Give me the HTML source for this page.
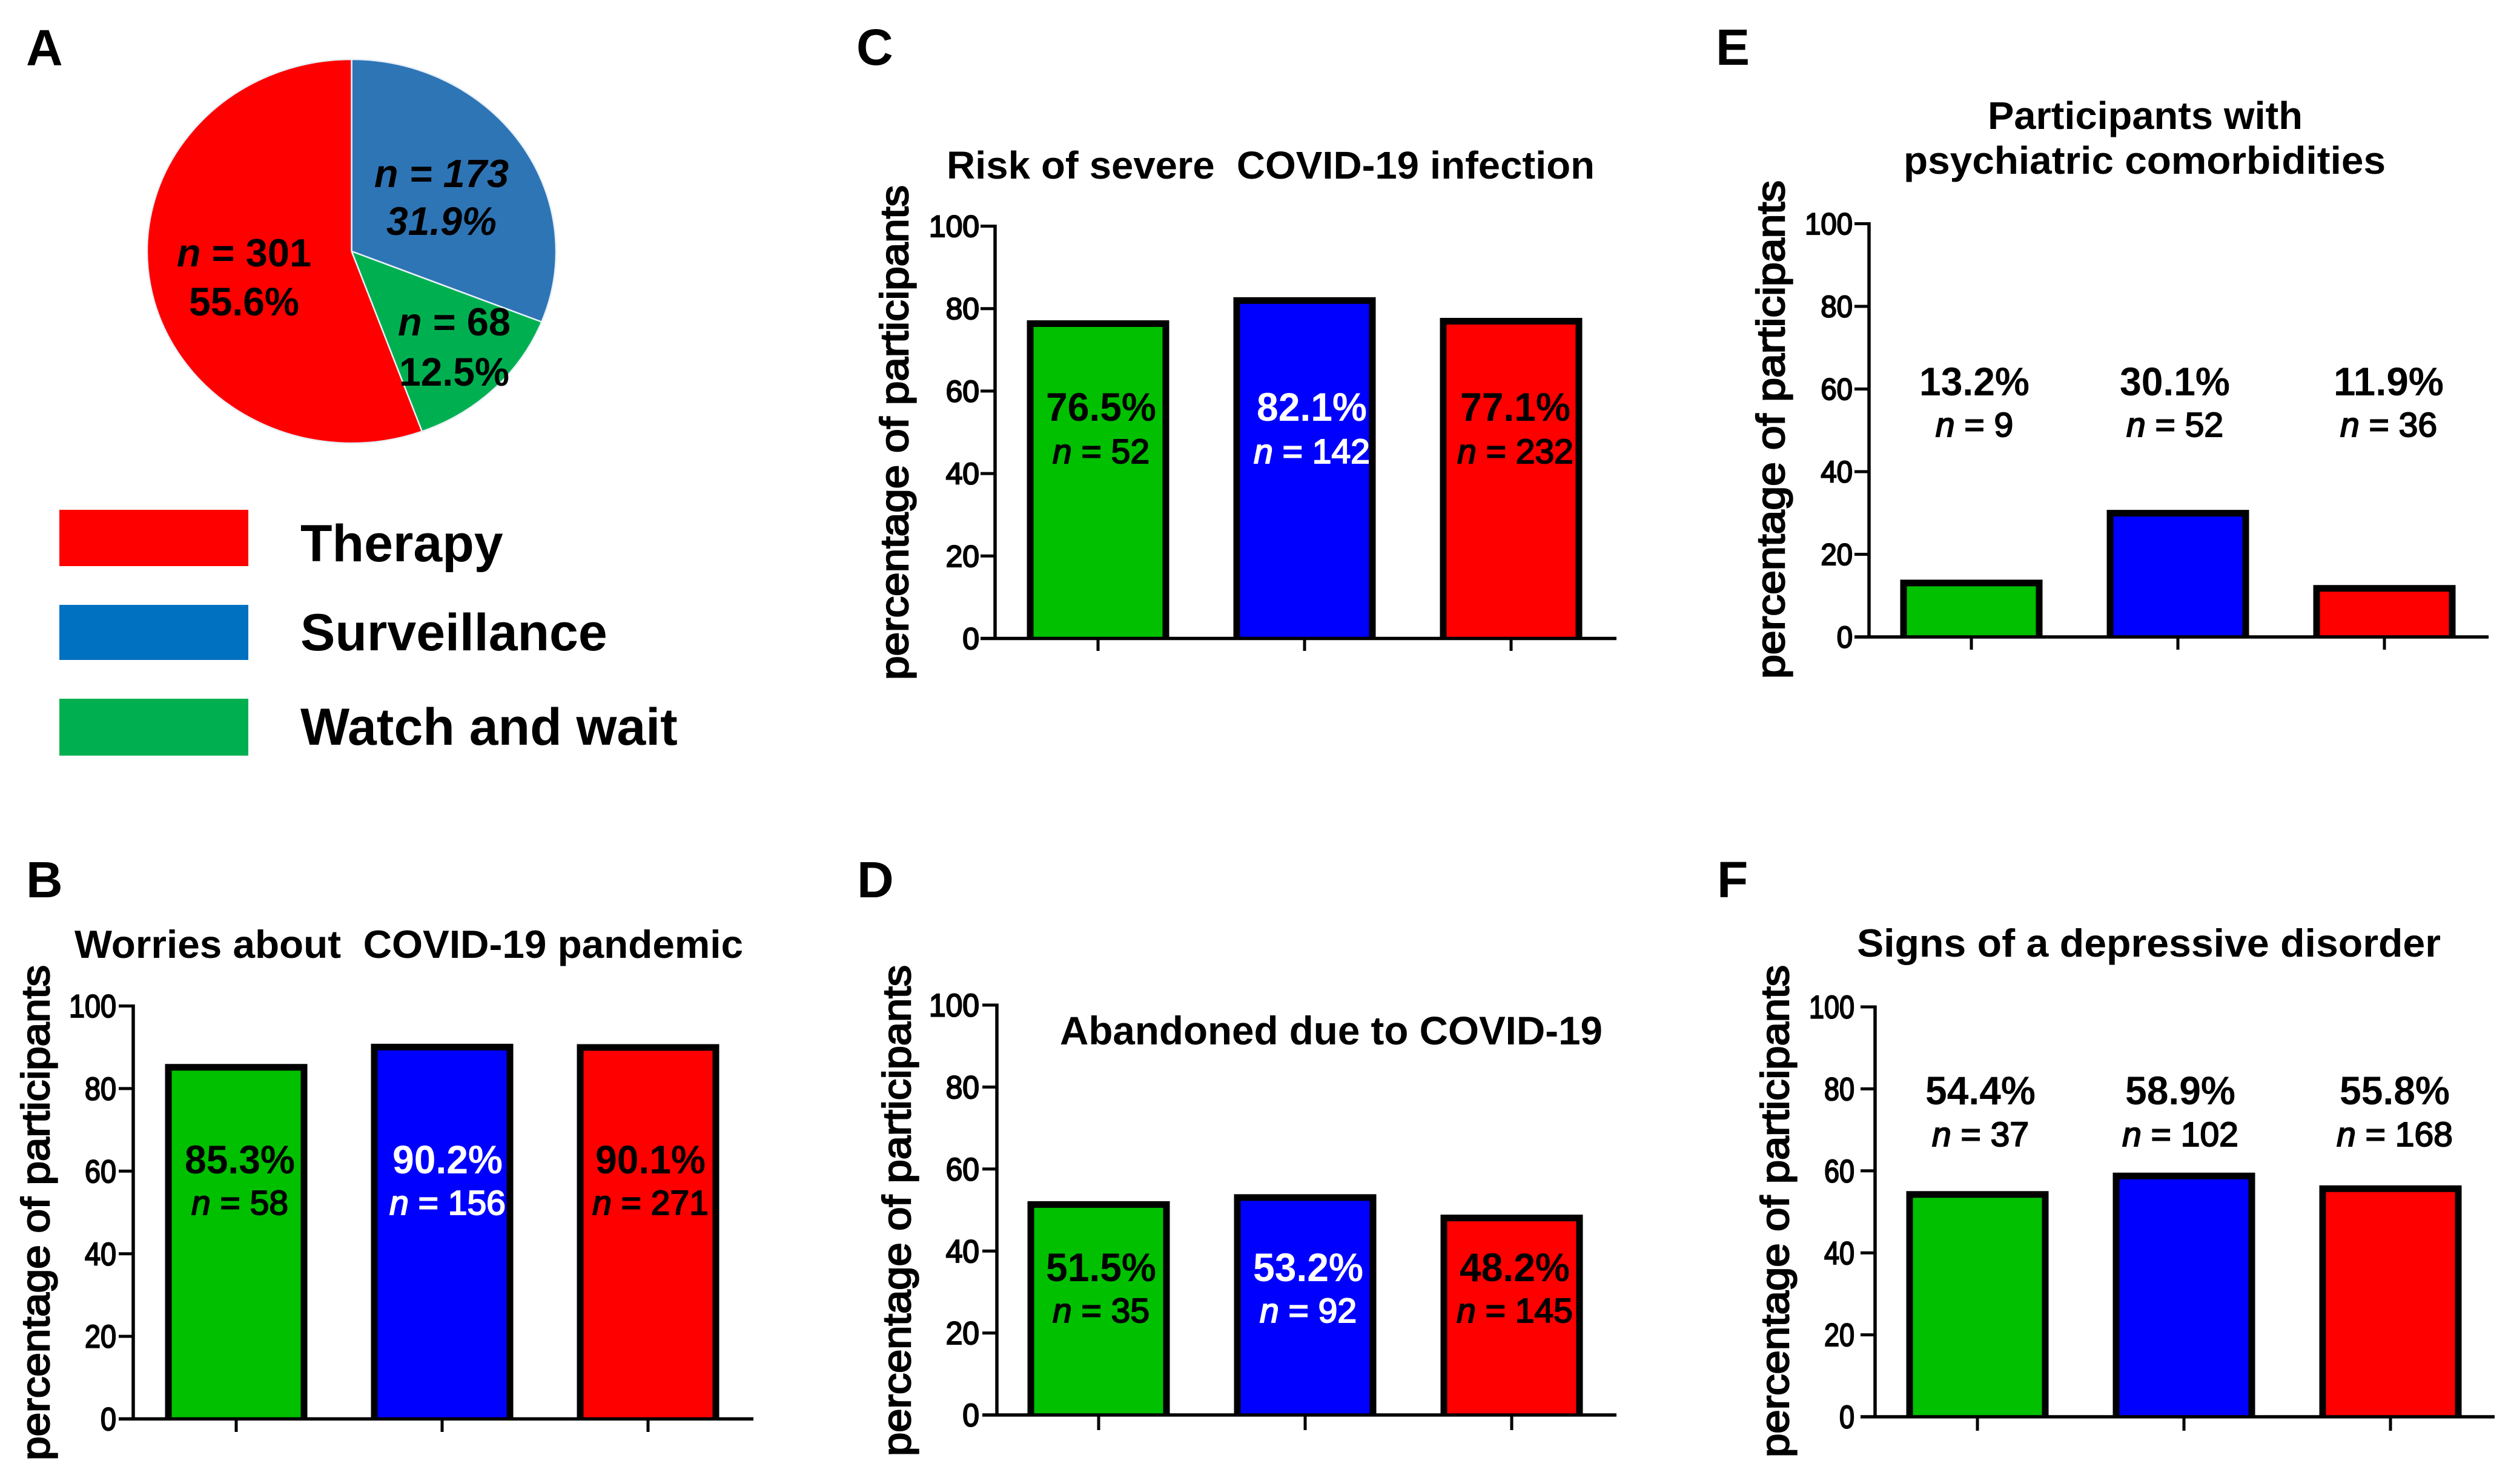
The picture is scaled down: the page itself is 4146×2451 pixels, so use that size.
<!DOCTYPE html>
<html lang="en">
<head>
<meta charset="utf-8">
<title>COVID-19 survey of participants by treatment group</title>
<style>
  html, body { margin: 0; padding: 0; background: #fff; }
  body { width: 4146px; height: 2451px; overflow: hidden; }
  svg { display: block; font-family: "Liberation Sans", sans-serif; }
  text { white-space: pre; }
</style>
</head>
<body>
<svg id="figure" xmlns="http://www.w3.org/2000/svg" width="4146" height="2451" viewBox="0 0 4146 2451">
  <rect x="0" y="0" width="4146" height="2451" fill="#ffffff"/>

  <text x="43" y="108" font-size="84" font-weight="700">A</text>
  <text x="43" y="1482" font-size="84" font-weight="700">B</text>
  <text x="1414" y="107" font-size="84" font-weight="700">C</text>
  <text x="1415" y="1482" font-size="84" font-weight="700">D</text>
  <text x="2833" y="107" font-size="84" font-weight="700">E</text>
  <text x="2835" y="1482" font-size="84" font-weight="700">F</text>

  <g>
    <rect x="98" y="842" width="312" height="93" fill="#ff0000"/>
    <text x="496" y="927" font-size="86" font-weight="700">Therapy</text>
    <rect x="98" y="999" width="312" height="91" fill="#0070c0"/>
    <text x="496" y="1074" font-size="86" font-weight="700">Surveillance</text>
    <rect x="98" y="1154" width="312" height="94" fill="#00b050"/>
    <text x="496" y="1230" font-size="86" font-weight="700">Watch and wait</text>
  </g>

  <g id="pie-chart"></g>
  <g id="panel-b"></g>
  <g id="panel-c"></g>
  <g id="panel-d"></g>
  <g id="panel-e"></g>
  <g id="panel-f"></g>
</svg>

<script>
// ---- Chart data ----
const barCategories = ['watch-and-wait', 'surveillance', 'therapy'];
const yTickLabels = [0, 20, 40, 60, 80, 100];

const worriesPercent = [85.3, 90.2, 90.1];
const worriesCounts = [58, 156, 271];

const severeRiskPercent = [76.5, 82.1, 77.1];
const severeRiskCounts = [52, 142, 232];

const abandonedPercent = [51.5, 53.2, 48.2];
const abandonedCounts = [35, 92, 145];

const psychiatricPercent = [13.2, 30.1, 11.9];
const psychiatricCounts = [9, 52, 36];

const depressivePercent = [54.4, 58.9, 55.8];
const depressiveCounts = [37, 102, 168];

const pieCategories = ['surveillance', 'watch-and-wait', 'therapy'];
// Slice shares as they appear in the drawn pie, read from the slice edges.
const pieSliceShares = [31.0, 13.4, 55.6];
// Values printed on the slices.
const piePercent = [31.9, 12.5, 55.6];
const pieCounts = [173, 68, 301];

// ---- Styling and layout ----
const SVG_NS = 'http://www.w3.org/2000/svg';
const barFill = { 'watch-and-wait': '#00c000', 'surveillance': '#0000ff', 'therapy': '#ff0000' };
const barLabelColor = { 'watch-and-wait': '#000000', 'surveillance': '#ffffff', 'therapy': '#000000' };
const pieFill = { 'surveillance': '#2e75b6', 'watch-and-wait': '#00b050', 'therapy': '#ff0000' };

const pieGeometry = { cx: 580.5, cy: 415, rx: 337.5, ry: 317 };
const pieLabelLayout = {
  'surveillance': { x: 729, nY: 309, pctY: 388, allItalic: true },
  'watch-and-wait': { x: 750, nY: 554, pctY: 637, allItalic: false },
  'therapy': { x: 403, nY: 440, pctY: 521, allItalic: false }
};

function makeText(parent, x, y, size, content, options) {
  const el = document.createElementNS(SVG_NS, 'text');
  el.setAttribute('x', x);
  el.setAttribute('y', y);
  el.setAttribute('font-size', size);
  el.setAttribute('font-weight', options.weight || 400);
  el.setAttribute('fill', options.fill || '#000000');
  el.setAttribute('text-anchor', options.anchor || 'start');
  if (options.italic) el.setAttribute('font-style', 'italic');
  if (options.heavy) {
    el.setAttribute('stroke', options.fill || '#000000');
    el.setAttribute('stroke-width', options.heavy);
  }
  if (options.length) {
    el.setAttribute('textLength', options.length);
    el.setAttribute('lengthAdjust', 'spacingAndGlyphs');
  }
  if (content !== null) el.textContent = content;
  parent.appendChild(el);
  return el;
}

function makeLine(parent, x1, y1, x2, y2, width) {
  const el = document.createElementNS(SVG_NS, 'line');
  el.setAttribute('x1', x1);
  el.setAttribute('y1', y1);
  el.setAttribute('x2', x2);
  el.setAttribute('y2', y2);
  el.setAttribute('stroke', '#000000');
  el.setAttribute('stroke-width', width);
  parent.appendChild(el);
  return el;
}

function appendCountSpans(textEl, count, restItalic) {
  const nSpan = document.createElementNS(SVG_NS, 'tspan');
  nSpan.setAttribute('font-style', 'italic');
  nSpan.textContent = 'n';
  textEl.appendChild(nSpan);
  const rest = document.createElementNS(SVG_NS, 'tspan');
  if (restItalic) rest.setAttribute('font-style', 'italic');
  rest.textContent = ' = ' + count;
  textEl.appendChild(rest);
}

function drawPie() {
  const root = document.getElementById('pie-chart');
  const g = pieGeometry;
  const total = pieSliceShares.reduce((a, b) => a + b, 0);
  const point = (fraction) => {
    const t = fraction * 2 * Math.PI;
    return [g.cx + g.rx * Math.sin(t), g.cy - g.ry * Math.cos(t)];
  };
  let cumulative = 0;
  pieSliceShares.forEach((value, i) => {
    const start = cumulative / total;
    cumulative += value;
    const end = cumulative / total;
    const a = point(start);
    const b = point(end);
    const large = end - start > 0.5 ? 1 : 0;
    const slice = document.createElementNS(SVG_NS, 'path');
    slice.setAttribute('d', 'M' + g.cx + ' ' + g.cy + ' L' + a[0] + ' ' + a[1] +
      ' A' + g.rx + ' ' + g.ry + ' 0 ' + large + ' 1 ' + b[0] + ' ' + b[1] + ' Z');
    slice.setAttribute('fill', pieFill[pieCategories[i]]);
    slice.setAttribute('stroke', '#e8f0f8');
    slice.setAttribute('stroke-width', 2.5);
    
    
    root.appendChild(slice);
  });
  piePercent.forEach((value, i) => {
    const l = pieLabelLayout[pieCategories[i]];
    const countLabel = makeText(root, l.x, l.nY, 65, null, { weight: 700, anchor: 'middle' });
    appendCountSpans(countLabel, pieCounts[i], l.allItalic);
    
    
    const pctLabel = makeText(root, l.x, l.pctY, 66, value.toFixed(1) + '%', { weight: 700, anchor: 'middle', italic: l.allItalic, length: 182 });
    
    
  });
}

function drawBarPanel(id, percent, counts, p) {
  const root = document.getElementById(id);
  const yScale = (v) => p.y0 - (v / 100) * (p.y0 - p.y100);
  const xScale = (i) => p.xFirst + i * p.xStep;

  // Bars: open at the bottom so the stroke ends on the x axis line
  percent.forEach((value, i) => {
    const category = barCategories[i];
    const top = yScale(value) + 1;
    const left = xScale(i) - 112;
    const right = xScale(i) + 112;
    const bar = document.createElementNS(SVG_NS, 'path');
    bar.setAttribute('d', 'M' + left + ' ' + p.y0 + ' L' + left + ' ' + top + ' L' + right + ' ' + top + ' L' + right + ' ' + p.y0);
    bar.setAttribute('fill', barFill[category]);
    bar.setAttribute('stroke', '#000000');
    bar.setAttribute('stroke-width', 11);
    
    
    root.appendChild(bar);
  });

  // Y axis
  const yAxis = makeLine(root, p.axisX, p.y100 - 2.5, p.axisX, p.y0 + 2.5, 5.5);
  
  
  yTickLabels.forEach((tick) => {
    const tickLine = makeLine(root, p.axisX - 24, yScale(tick), p.axisX, yScale(tick), 5);
    
    
    const label = String(tick);
    const tickLabel = makeText(root, p.tickRight, yScale(tick) + p.tickFont * 0.35, p.tickFont, label, {
      anchor: 'end', heavy: 2.2, length: p.digitWidth * label.length
    });
    
    
  });

  // X axis
  const xAxis = makeLine(root, p.axisX - 24, p.y0, p.xEnd, p.y0, 5.5);
  
  
  barCategories.forEach((category, i) => {
    const tickLine = makeLine(root, xScale(i), p.y0, xScale(i), p.tickBottom, 5);
    
    
  });

  // Value labels
  percent.forEach((value, i) => {
    const category = barCategories[i];
    const color = p.labelsAbove ? '#000000' : barLabelColor[category];
    const cx = xScale(i) + p.labelDx[i];
    const pctLabel = makeText(root, cx, p.pctY, 66, value.toFixed(1) + '%', { weight: 700, anchor: 'middle', fill: color, length: 182 });
    
    
    const countLabel = makeText(root, cx, p.countY, 57, null, { anchor: 'middle', fill: color, heavy: 2 });
    appendCountSpans(countLabel, counts[i], false);
    
    
  });

  // Y axis title
  const yTitleGroup = document.createElementNS(SVG_NS, 'g');
  yTitleGroup.setAttribute('transform', 'translate(' + p.yTitleX + ' ' + p.yTitleBottom + ') rotate(-90)');
  root.appendChild(yTitleGroup);
  const yTitle = makeText(yTitleGroup, 0, 0, 65, 'percentage of participants', { heavy: 2.4, length: p.yTitleLength });
  
  

  // Chart title
  p.titles.forEach((t, k) => {
    const title = makeText(root, t.x, t.y, t.size, t.text, { weight: 700, length: t.length });
    
    
  });
}

drawPie();

drawBarPanel('panel-b', worriesPercent, worriesCounts, {
  axisX: 220, y0: 2343.5, y100: 1661.5, xEnd: 1244, tickBottom: 2365,
  xFirst: 390, xStep: 340, labelDx: [6, 9, 4],
  pctY: 1938, countY: 2006, labelsAbove: false,
  tickRight: 192, tickFont: 53, digitWidth: 26,
  yTitleX: 81, yTitleBottom: 2412, yTitleLength: 818,
  titles: [{ x: 123, y: 1582, size: 65, text: 'Worries about  COVID-19 pandemic', length: 1104 }]
});

drawBarPanel('panel-c', severeRiskPercent, severeRiskCounts, {
  axisX: 1643, y0: 1054.5, y100: 373.5, xEnd: 2669, tickBottom: 1075,
  xFirst: 1813, xStep: 341, labelDx: [5, 12, 7],
  pctY: 695, countY: 765, labelsAbove: false,
  tickRight: 1617, tickFont: 50, digitWidth: 27.7,
  yTitleX: 1499, yTitleBottom: 1123, yTitleLength: 817,
  titles: [{ x: 1563, y: 295, size: 64, text: 'Risk of severe  COVID-19 infection', length: 1070 }]
});

drawBarPanel('panel-d', abandonedPercent, abandonedCounts, {
  axisX: 1646, y0: 2337, y100: 1660, xEnd: 2669, tickBottom: 2362,
  xFirst: 1814, xStep: 341, labelDx: [4, 5, 5],
  pctY: 2116, countY: 2184, labelsAbove: false,
  tickRight: 1617, tickFont: 53, digitWidth: 27.7,
  yTitleX: 1503, yTitleBottom: 2405, yTitleLength: 811,
  titles: [{ x: 1750, y: 1725, size: 66, text: 'Abandoned due to COVID-19', length: 896 }]
});

drawBarPanel('panel-e', psychiatricPercent, psychiatricCounts, {
  axisX: 3086, y0: 1052, y100: 369.5, xEnd: 4109, tickBottom: 1073,
  xFirst: 3255, xStep: 341, labelDx: [5, -5, 7],
  pctY: 653, countY: 721, labelsAbove: true,
  tickRight: 3059, tickFont: 50, digitWidth: 26.3,
  yTitleX: 2946, yTitleBottom: 1121, yTitleLength: 823,
  titles: [
    { x: 3282, y: 213, size: 64, text: 'Participants with', length: 520 },
    { x: 3143, y: 287, size: 64, text: 'psychiatric comorbidities', length: 796 }
  ]
});

drawBarPanel('panel-f', depressivePercent, depressiveCounts, {
  axisX: 3096, y0: 2340, y100: 1663, xEnd: 4119, tickBottom: 2363,
  xFirst: 3265, xStep: 341, labelDx: [5, -6, 7],
  pctY: 1824, countY: 1893, labelsAbove: true,
  tickRight: 3062, tickFont: 53, digitWidth: 25,
  yTitleX: 2953, yTitleBottom: 2407, yTitleLength: 813,
  titles: [{ x: 3066, y: 1580, size: 65, text: 'Signs of a depressive disorder', length: 964 }]
});
</script>
</body>
</html>
